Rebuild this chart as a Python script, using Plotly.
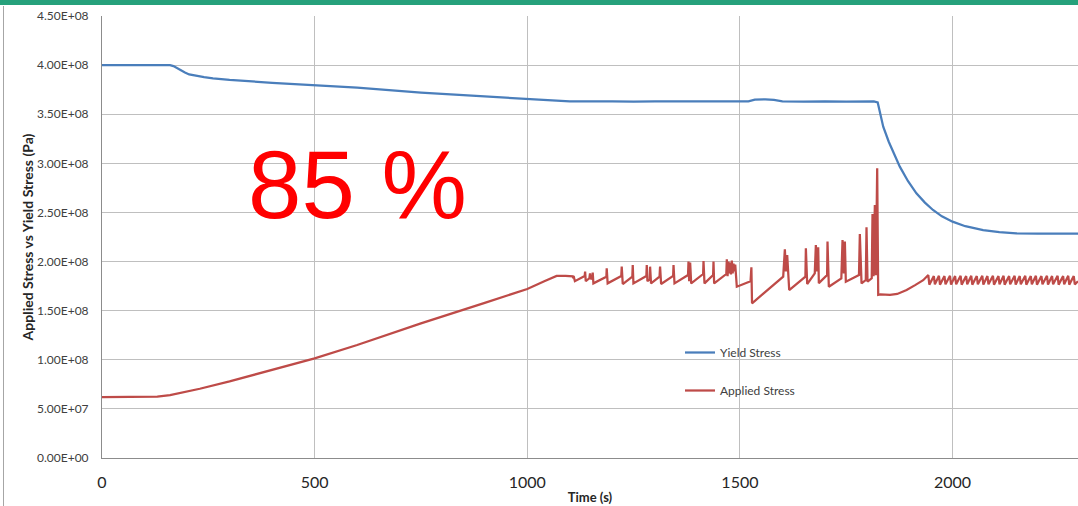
import plotly.graph_objects as go

# ---------------- data ----------------
yield_t = [0, 160, 168, 176, 185, 195, 205, 220, 240, 261, 300, 400, 500, 600, 750, 900,
           1000, 1070,
           1100, 1200, 1250, 1300, 1400, 1450, 1500, 1520, 1535, 1560, 1580, 1600, 1650,
           1700, 1750, 1800, 1815, 1824, 1830, 1837, 1850, 1865, 1876, 1895, 1915, 1935,
           1954, 1975, 2000, 2030, 2072, 2110, 2150, 2200, 2295]
yield_v = [4.00e8, 4.00e8, 3.99e8, 3.97e8, 3.945e8, 3.925e8, 3.905e8, 3.89e8, 3.877e8,
           3.866e8, 3.85e8, 3.82e8, 3.797e8, 3.77e8, 3.72e8, 3.68e8,
           3.655e8, 3.635e8,
           3.63e8, 3.632e8, 3.628e8, 3.632e8, 3.63e8, 3.632e8, 3.628e8, 3.632e8, 3.648e8,
           3.652e8, 3.645e8, 3.632e8, 3.628e8,
           3.632e8, 3.628e8, 3.632e8, 3.63e8, 3.62e8, 3.50e8, 3.373e8, 3.22e8, 3.08e8,
           2.966e8, 2.82e8, 2.695e8, 2.60e8,
           2.525e8, 2.46e8, 2.406e8, 2.36e8, 2.321e8, 2.30e8, 2.288e8, 2.285e8, 2.285e8]

applied_t = [0, 100, 130, 160, 190, 230, 300, 400, 500, 600, 750, 900, 1000, 1040, 1069,
             1090, 1107, 1108, 1109, 1112, 1135, 1136, 1137.5, 1146, 1147.6, 1149, 1153,
             1153.9, 1155.5, 1186, 1186.8, 1189, 1221, 1222.1, 1224.5, 1247, 1248, 1249.6,
             1280, 1281, 1282.5, 1288, 1288.8, 1291, 1311, 1312.3, 1314.7, 1343, 1343.9,
             1346.2, 1378, 1379.1, 1380.7, 1383, 1385.4, 1413.5, 1414.4, 1416.7, 1437,
             1437.9, 1439.4, 1468, 1469.2, 1471, 1473, 1475, 1477, 1479, 1481, 1483, 1485,
             1487, 1489, 1492.7,
             1525, 1527, 1528.5, 1601.8, 1605.7, 1608.1, 1611.2, 1615.9, 1654, 1655.1,
             1658.2, 1676, 1678.6, 1680.9, 1684.1, 1685.6, 1705, 1706.0, 1709.1, 1738.5,
             1741.3, 1744.4, 1746.8, 1749.1, 1780, 1782.0, 1786.0, 1796, 1797.7, 1800.1,
             1810, 1811.8, 1814.2, 1817.3, 1819.7, 1822.8, 1825.2,
             1830, 1853, 1870, 1892, 1912, 1931, 1943,
             1945.5, 1956, 1958.5, 1968, 1970.5, 1981, 1983.5, 1994, 1996.5, 2006, 2008.5,
             2019, 2021.5, 2032, 2034.5, 2044, 2046.5, 2057, 2059.5, 2070, 2072.5, 2082,
             2084.5, 2095, 2097.5, 2108, 2110.5, 2120, 2122.5, 2133, 2135.5, 2146, 2148.5,
             2158, 2160.5, 2171, 2173.5, 2184, 2186.5, 2196, 2198.5, 2209, 2211.5, 2222,
             2224.5, 2234, 2236.5, 2247, 2249.5, 2260, 2262.5, 2272, 2274.5, 2285, 2287.5,
             2295]
applied_v = [0.62e8, 0.62e8, 0.625e8, 0.64e8, 0.665e8, 0.705e8, 0.78e8, 0.895e8, 1.015e8,
             1.15e8, 1.37e8, 1.58e8, 1.72e8, 1.80e8, 1.853e8,
             1.855e8, 1.85e8, 1.83e8, 1.853e8, 1.80e8, 1.853e8, 1.897e8, 1.80e8, 1.83e8,
             1.88e8, 1.82e8, 1.84e8,
             1.887e8, 1.778e8, 1.846e8, 1.931e8, 1.778e8, 1.853e8, 1.948e8, 1.771e8,
             1.846e8, 1.965e8, 1.778e8,
             1.853e8, 1.965e8, 1.80e8, 1.82e8, 1.948e8, 1.778e8, 1.846e8, 1.948e8, 1.771e8,
             1.853e8, 1.965e8,
             1.778e8, 1.863e8, 1.999e8, 1.80e8, 1.99e8, 1.778e8, 1.873e8, 2.006e8, 1.778e8,
             1.863e8,
             1.999e8, 1.778e8, 1.873e8, 2.023e8, 1.85e8, 2.0e8, 1.88e8, 1.99e8, 1.87e8,
             2.01e8, 1.88e8, 1.98e8,
             1.90e8, 1.97e8, 1.744e8,
             1.80e8, 1.941e8, 1.575e8, 1.846e8, 2.125e8, 1.90e8, 2.067e8, 1.71e8, 1.846e8,
             2.135e8,
             1.771e8, 1.88e8, 2.169e8, 1.90e8, 2.145e8, 1.78e8, 1.863e8, 2.203e8, 1.744e8,
             1.829e8,
             2.219e8, 1.88e8, 2.203e8, 1.795e8, 1.863e8, 2.281e8, 1.778e8, 1.812e8,
             2.349e8, 1.795e8,
             1.83e8, 2.484e8, 1.85e8, 2.576e8, 1.86e8, 2.949e8, 1.66e8,
             1.665e8, 1.66e8, 1.67e8, 1.71e8, 1.76e8, 1.81e8, 1.863e8,
             1.765e8, 1.852e8, 1.768e8, 1.855e8, 1.765e8, 1.852e8, 1.768e8, 1.855e8,
             1.765e8, 1.852e8, 1.768e8,
             1.855e8, 1.765e8, 1.852e8, 1.768e8, 1.855e8, 1.765e8, 1.852e8, 1.768e8,
             1.855e8, 1.765e8, 1.852e8,
             1.768e8, 1.855e8, 1.765e8, 1.852e8, 1.768e8, 1.855e8, 1.765e8, 1.852e8,
             1.768e8, 1.855e8, 1.765e8,
             1.852e8, 1.768e8, 1.855e8, 1.765e8, 1.852e8, 1.768e8, 1.855e8, 1.765e8,
             1.852e8, 1.768e8, 1.855e8,
             1.765e8, 1.852e8, 1.768e8, 1.855e8, 1.765e8, 1.852e8, 1.768e8, 1.855e8,
             1.765e8, 1.852e8, 1.768e8,
             1.80e8]

y_tick_vals = [0, 0.5e8, 1.0e8, 1.5e8, 2.0e8, 2.5e8, 3.0e8, 3.5e8, 4.0e8, 4.5e8]
y_tick_text = ["0.00E+00", "5.00E+07", "1.00E+08", "1.50E+08", "2.00E+08",
               "2.50E+08", "3.00E+08", "3.50E+08", "4.00E+08", "4.50E+08"]
x_tick_vals = [0, 500, 1000, 1500, 2000]

# ---------------- figure ----------------
W, H = 1078, 506
L, R, T, B = 102, 0, 16, 48
pw, ph = W - L - R, H - T - B


def px_x(p):
    return (p - L) / pw


def px_y(p):
    return (H - B - p) / ph


fig = go.Figure()
fig.add_trace(go.Scatter(x=yield_t, y=yield_v, mode="lines", name="Yield Stress",
                         line=dict(color="#4A7EBB", width=2.25), legendgroup="a"))
fig.add_trace(go.Scatter(x=applied_t, y=applied_v, mode="lines", name="Applied Stress",
                         line=dict(color="#BE4B48", width=2.25), legendgroup="b"))

grid = "#BFBFBF"
fig.update_layout(
    width=W, height=H,
    margin=dict(l=L, r=R, t=T, b=B, pad=0),
    paper_bgcolor="white", plot_bgcolor="white",
    font=dict(family="Lato, Open Sans, sans-serif", color="#262626"),
    showlegend=True,
    legend=dict(x=px_x(680), y=px_y(338), xanchor="left", yanchor="top",
                bgcolor="rgba(0,0,0,0)", font=dict(size=12, color="#404040"),
                traceorder="grouped", tracegroupgap=19),
    xaxis=dict(range=[0, 2295], tickvals=x_tick_vals, showgrid=True, gridcolor=grid,
               gridwidth=1, zeroline=False, showline=True, linecolor="#8C8C8C",
               linewidth=1, ticks="", tickfont=dict(size=16, color="#262626"),
               ticklabelstandoff=10,
               title=dict(text="<b>Time (s)</b>", font=dict(size=13, color="#262626"),
                          standoff=2)),
    yaxis=dict(range=[0, 4.5e8], tickvals=y_tick_vals, ticktext=y_tick_text,
               showgrid=True, gridcolor=grid, gridwidth=1, zeroline=False,
               showline=True, linecolor="#8C8C8C", linewidth=1, ticks="",
               tickfont=dict(size=12, color="#404040"), ticklabelstandoff=10,
               title=dict(text="<b>Applied Stress vs Yield Stress (Pa)</b>",
                          font=dict(size=14, color="#262626"), standoff=0)),
)

# white legend box covering gridlines
fig.add_shape(type="rect", xref="paper", yref="paper",
              x0=px_x(668), x1=px_x(827), y0=px_y(410), y1=px_y(332),
              fillcolor="white", line=dict(width=0), layer="between")

# top green band and left frame line
fig.add_shape(type="rect", xref="paper", yref="paper",
              x0=px_x(0), x1=px_x(W), y0=px_y(5), y1=px_y(0),
              fillcolor="#26A17B", line=dict(width=0), layer="above")
fig.add_shape(type="line", xref="paper", yref="paper",
              x0=px_x(3.5), x1=px_x(3.5), y0=px_y(H), y1=px_y(6),
              line=dict(color="#A6A6A6", width=1), layer="above")

# big red label
fig.add_annotation(text="85 %", xref="paper", yref="paper", x=px_x(357), y=px_y(184),
                   xanchor="center", yanchor="middle", showarrow=False,
                   font=dict(family="Liberation Sans, Arial, sans-serif", size=96,
                             color="#FF0000"))

fig.write_html("out.html", config={"displayModeBar": False},
               post_script="document.body.style.margin='0';")
